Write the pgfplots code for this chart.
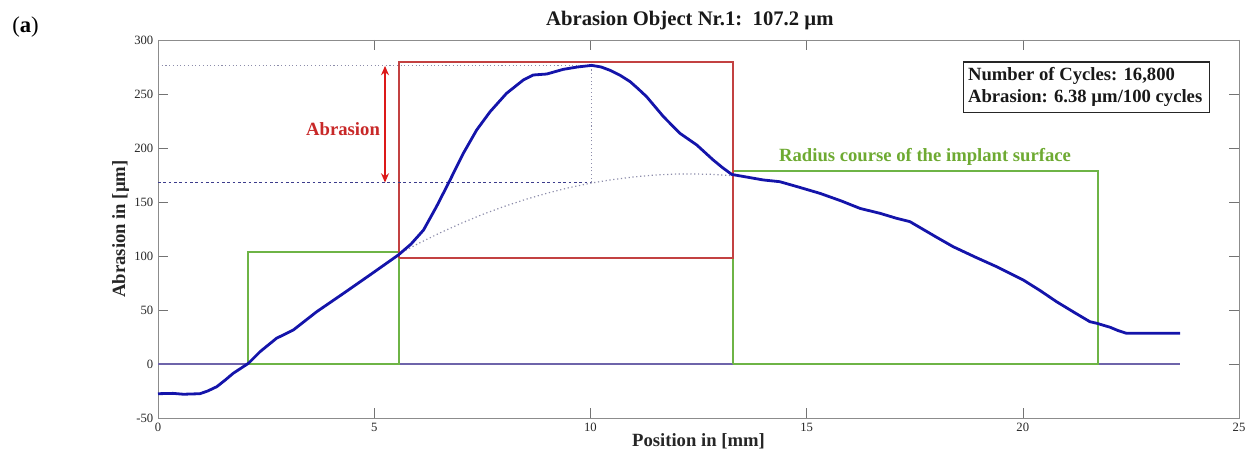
\documentclass[border=0pt]{standalone}
\usepackage{fontspec}
\setmainfont{Liberation Serif}
\usepackage{pgfplots}
\pgfplotsset{compat=1.18}
\usetikzlibrary{arrows.meta}
\definecolor{curveblue}{RGB}{20,20,170}
\definecolor{boxred}{RGB}{195,65,65}
\definecolor{arrred}{RGB}{220,25,25}
\definecolor{txtred}{RGB}{200,40,40}
\definecolor{boxgreen}{RGB}{110,180,70}
\definecolor{txtgreen}{RGB}{110,170,50}
\definecolor{zeroline}{RGB}{110,100,170}
\definecolor{dotgray}{RGB}{140,140,170}
\definecolor{dashblue}{RGB}{60,60,140}
\begin{document}
\begin{tikzpicture}
\useasboundingbox (-118.5pt,-27pt) rectangle (819.75pt,313.5pt);
\begin{axis}[
  at={(0,0)}, anchor=south west,
  scale only axis, width=810.75pt, height=283.5pt,
  xmin=0, xmax=25, ymin=-50, ymax=300,
  xtick={0,5,...,25}, ytick={-50,0,...,300},
  tick align=inside, major tick length=7.5pt,
  axis line style={black!45},
  tick style={black!55, thin},
  ticklabel style={font=\fontsize{9.5}{10}\selectfont, text=black!85},
  /pgf/number format/assume math mode=true,
  xlabel={\textbf{Position in [mm]}},
  ylabel={\textbf{Abrasion in [µm]}},
  label style={font=\fontsize{14}{15}\selectfont, text=black!85},
  xlabel style={yshift=5pt},
  ylabel style={yshift=-3pt},
  clip=false,
]
% zero line
\addplot[zeroline, line width=1pt] coordinates {(0,0) (23.64,0)};
% green boxes
\addplot[boxgreen, line width=1.4pt] coordinates {(2.09,0) (2.09,103.4) (5.58,103.4) (5.58,0) (2.09,0)};
\addplot[boxgreen, line width=1.4pt] coordinates {(13.29,0) (13.29,178.5) (21.74,178.5) (21.74,0) (13.29,0)};
% red box
\addplot[boxred, line width=1.5pt] coordinates {(5.58,98.5) (5.58,279.8) (13.29,279.8) (13.29,98.5) (5.58,98.5)};
% guide lines
\addplot[dotgray, dotted, line width=0.8pt] coordinates {(0,276) (10.03,276)};
\addplot[dashblue, dash pattern=on 2pt off 2pt, line width=0.7pt] coordinates {(0,168) (10.03,168)};
\addplot[dotgray, dotted, line width=0.8pt] coordinates {(10.03,168) (10.03,276)};
\addplot[dotgray, dotted, line width=0.9pt] coordinates {
(5.57,102) (6,111.1) (6.5,121.0) (7,130.1) (7.5,138.4) (8,145.8) (8.5,152.4)
(9,158.2) (9.5,163.2) (10,167.4) (10.5,170.7) (11,173.2) (11.5,175.0)
(12,175.9) (12.3,176) (12.8,175.6) (13.27,174.5)};
% measured profile
\addplot[curveblue, line width=2.1pt, line join=round] coordinates {
(0,-27.5) (0.35,-27.2) (0.59,-28) (0.97,-27.5) (1.15,-25) (1.36,-21) (1.55,-15)
(1.74,-8.6) (2.09,0.6) (2.36,11.4) (2.74,23.8) (3.13,31.5) (3.67,48.4) (4.29,65.4)
(4.9,82.4) (5.56,101) (5.85,111) (6.14,124) (6.44,145.7) (6.75,170) (7.06,195)
(7.37,216.7) (7.68,233.6) (8.06,250.6) (8.45,263) (8.68,267.6) (8.99,268.5)
(9.37,272.8) (9.7,275) (10.03,276.5) (10.25,275) (10.45,272) (10.7,267) (10.92,261.4) (11.1,255) (11.3,247.5)
(11.5,238) (11.69,229) (12.07,213.6) (12.46,202.8) (12.84,188.9) (13.05,182) (13.27,175.5) (13.7,172.5) (14.0,170.4)
(14.38,168.8) (14.8,164) (15.31,158) (15.8,151) (16.24,144) (16.7,139.5) (17.08,134.9) (17.39,131.8) (18.0,117.5)
(18.39,108.6) (18.9,99) (19.4,90) (20.01,77.8) (20.4,68) (20.78,57.7) (21.2,47.5) (21.55,39.2) (21.71,37.7)
(22.02,34) (22.2,31) (22.4,28.4) (23.64,28.4)};
% arrow
\draw[arrred, line width=0.9pt, {Stealth[length=7pt,width=6pt]}-{Stealth[length=7pt,width=6pt]}]
  (axis cs:5.25,168) -- (axis cs:5.25,276);
\node[text=txtred, font=\bfseries\fontsize{14}{15}\selectfont] at (axis cs:4.28,217.6) {Abrasion};
\node[text=txtgreen, font=\bfseries\fontsize{14}{15}\selectfont] at (axis cs:17.74,191.7) {Radius course of the implant surface};
% info box
\draw[black!85, line width=0.8pt] (axis cs:18.62,233.3) rectangle (axis cs:24.31,279.6);
\node[anchor=north west, align=left, inner sep=3.5pt, font=\bfseries\fontsize{14}{17}\selectfont, text=black!90]
  at (axis cs:18.62,279.6) {Number of Cycles: 16,800\\Abrasion: 6.38 µm/100 cycles};
% title
\node[anchor=base, font=\bfseries\fontsize{15.5}{17}\selectfont, text=black!90] at (axis cs:12.3,300) [yshift=10.5pt] {Abrasion Object Nr.1:\ \ 107.2 µm};
\end{axis}
\node[anchor=base west, inner sep=0pt, font=\fontsize{17}{19}\selectfont] at (-109.5pt,288.75pt) {(\textbf{a})};
\end{tikzpicture}
\end{document}
